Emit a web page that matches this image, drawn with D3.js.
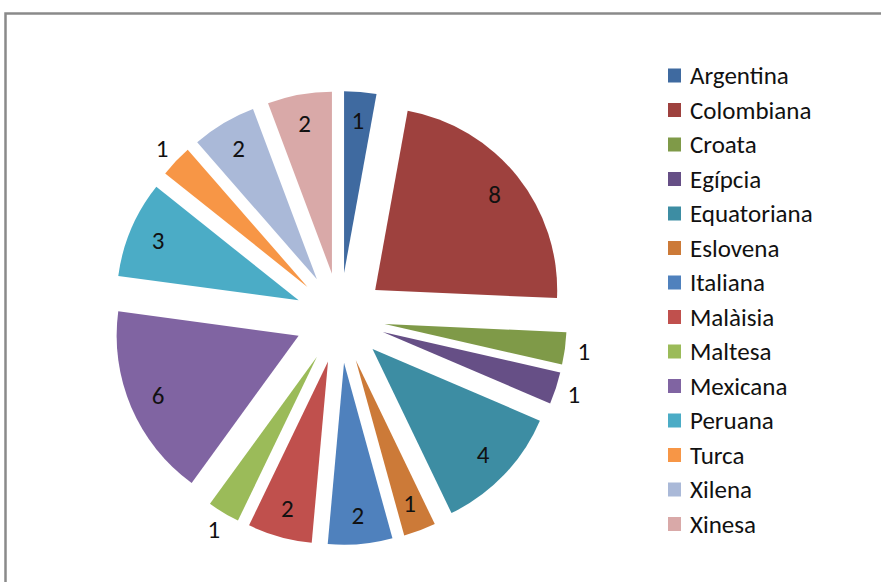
<!DOCTYPE html>
<html>
<head>
<meta charset="utf-8">
<script src="https://cdn.jsdelivr.net/npm/d3@7/dist/d3.min.js"></script>
<style>
  html, body { margin: 0; padding: 0; background: #fff; }
  svg { display: block; }
  text { font-family: Calibri, Carlito, "Open Sans", sans-serif; fill: #111; }
</style>
</head>
<body>
<svg id="chart" width="881" height="582"></svg>
<script>
// ---- data ----
const categories = ["Argentina","Colombiana","Croata","Egípcia","Equatoriana","Eslovena","Italiana","Malàisia","Maltesa","Mexicana","Peruana","Turca","Xilena","Xinesa"];
const values = [1, 8, 1, 1, 4, 1, 2, 2, 1, 6, 3, 1, 2, 2];
const colors = ["#3F6AA0","#9E413E","#7F9A48","#664F86","#3D8DA3","#CC7A38","#4F81BD","#C0504D","#9BBB59","#8064A2","#4BACC6","#F79646","#AAB9D8","#D9A9A8"];
const outsideLabels = ["Croata","Egípcia","Maltesa","Turca"];

// ---- layout ----
const cx = 340, cy = 318, R = 182, explode = 45;
const svg = d3.select("#chart");

// chart frame
svg.append("rect")
  .attr("x", 5.5).attr("y", 13.5)
  .attr("width", 1000).attr("height", 1000)
  .attr("fill", "none").attr("stroke", "#8a8a8a").attr("stroke-width", 2.5);

const data = categories.map((c, i) => ({ name: c, value: values[i], color: colors[i] }));
const pie = d3.pie().sort(null).value(d => d.value).startAngle(0).endAngle(2 * Math.PI);
const arcs = pie(data);
const arc = d3.arc().innerRadius(0).outerRadius(R);

const g = svg.append("g").attr("transform", `translate(${cx},${cy})`);

const slices = g.selectAll("g.slice").data(arcs).join("g")
  .attr("class", "slice")
  .attr("transform", d => {
    const a = (d.startAngle + d.endAngle) / 2;
    return `translate(${explode * Math.sin(a)},${-explode * Math.cos(a)})`;
  });

slices.append("path")
  .attr("d", arc)
  .attr("fill", d => d.data.color);

const labelR = d => outsideLabels.includes(d.data.name) ? R + 19 : R * 0.84;
slices.append("text")
  .attr("text-anchor", "middle")
  .attr("dominant-baseline", "central")
  .attr("font-size", 25)
  .attr("x", d => labelR(d) * Math.sin((d.startAngle + d.endAngle) / 2))
  .attr("y", d => -labelR(d) * Math.cos((d.startAngle + d.endAngle) / 2))
  .text(d => d.data.value);

// legend
const legend = svg.append("g").attr("transform", "translate(668,0)");
const rowY = d3.scalePoint().domain(categories).range([75.5, 75.5 + 34.5 * (categories.length - 1)]);
const items = legend.selectAll("g").data(data).join("g")
  .attr("transform", d => `translate(0,${rowY(d.name)})`);
items.append("rect")
  .attr("x", 0).attr("y", -7).attr("width", 13).attr("height", 14)
  .attr("fill", d => d.color);
items.append("text")
  .attr("x", 22).attr("y", 0)
  .attr("dominant-baseline", "central")
  .attr("font-size", 25)
  .text(d => d.name);
</script>
</body>
</html>
